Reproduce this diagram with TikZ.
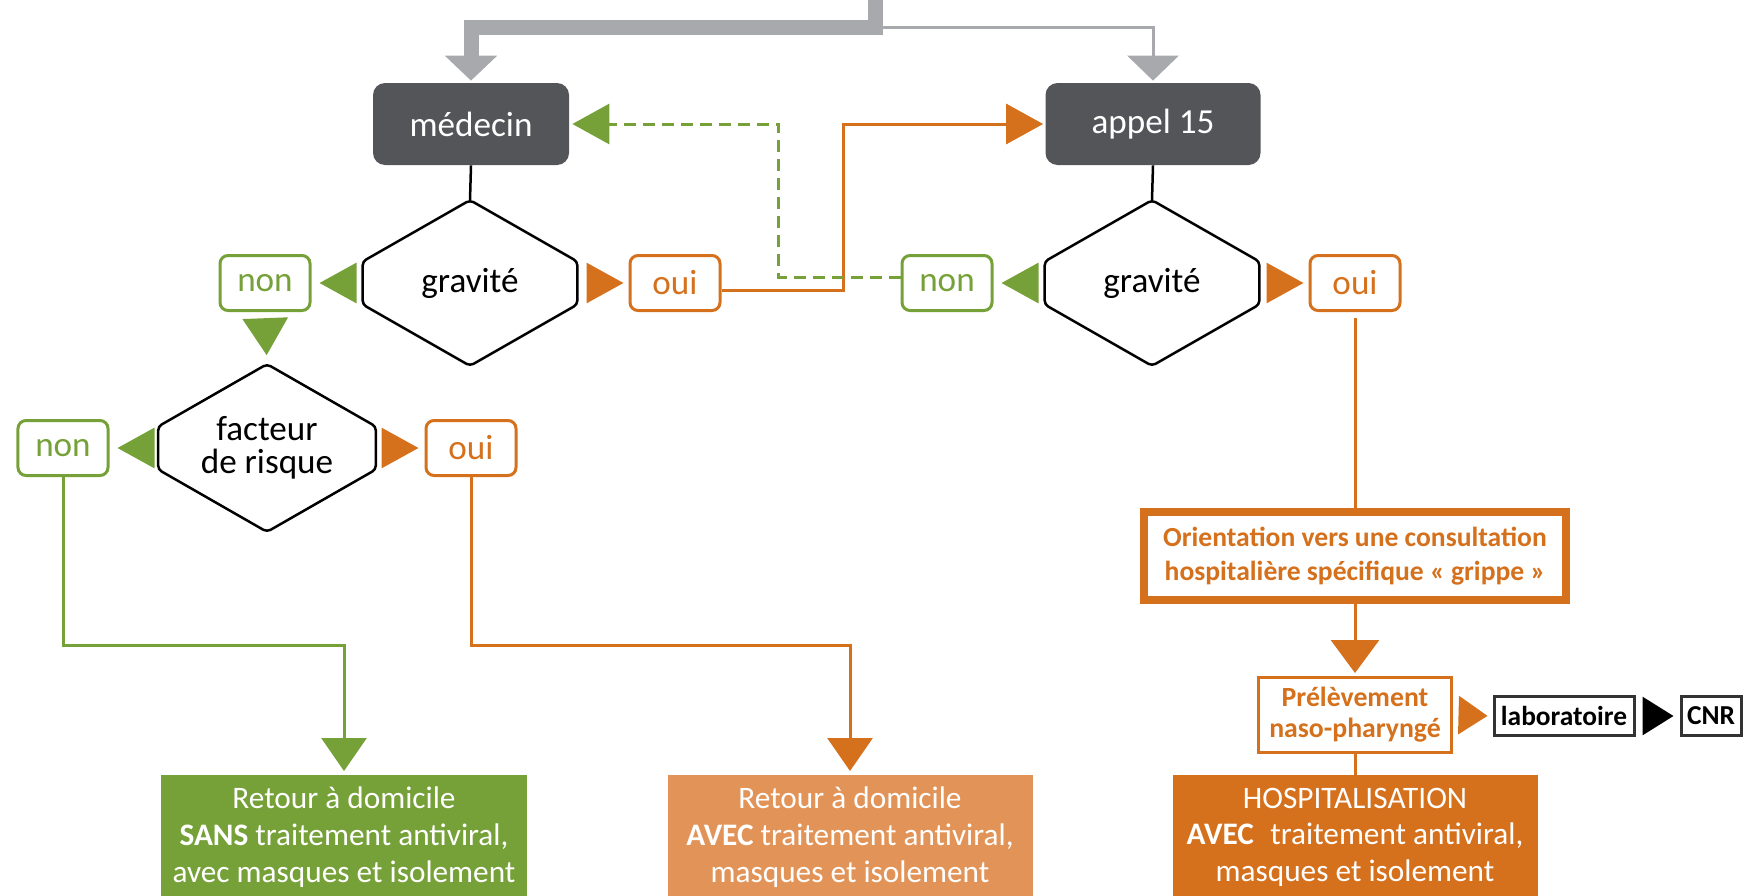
\documentclass[tikz,border=0pt]{standalone}
\usepackage{fontspec}
\setmainfont{Carlito}
\usetikzlibrary{arrows.meta}
\definecolor{vert}{RGB}{118,161,57}
\definecolor{orangefonce}{RGB}{213,112,28}
\definecolor{orangeclair}{RGB}{226,148,88}
\definecolor{grisfonce}{RGB}{84,85,88}
\definecolor{gris}{RGB}{167,169,172}

\begin{document}
\begin{tikzpicture}[x=0.2mm,y=-0.2mm,
  acteur/.style={rectangle,fill=grisfonce,text=white,rounded corners=2.4mm,minimum height=16.4mm,font=\fontsize{20}{22}\selectfont},
  gravite/.style={rectangle,minimum width=42.8mm,minimum height=33mm,align=center,inner sep=0pt,font=\fontsize{20}{19}\selectfont},
  losange/.style={draw=black,line width=0.5mm,rounded corners=0.8mm},
  boxnon/.style={rectangle,draw=vert,fill=white,text=vert,line width=0.6mm,rounded corners=1.6mm,minimum width=18mm,minimum height=11mm,font=\fontsize{20}{22}\selectfont},
  boxoui/.style={boxnon,draw=orangefonce,text=orangefonce},
  issue/.style={rectangle,text=white,anchor=north,minimum width=73mm,minimum height=24.8mm,align=center,font=\fontsize{17.8}{21}\selectfont},
  cadre/.style={rectangle,fill=white,align=center,text=orangefonce,draw=orangefonce},
  petit/.style={rectangle,draw=black!80,line width=0.6mm,inner sep=0.5mm,minimum height=7.8mm,font=\bfseries\fontsize{15.6}{17}\selectfont},
  cote/.style={-{Triangle[length=7.4mm,width=8mm]},line width=0.6mm},
  bas/.style={-{Triangle[length=6.6mm,width=9mm]},line width=0.6mm}]
\useasboundingbox (0,0) rectangle (1744,896);
\path (471,124) node(medecin)[acteur,minimum width=39.2mm]{médecin}
(1153,124) node(appel)[acteur,minimum width=43mm]{appel 15}
(470,283) node(gravL)[gravite]{gravité}
(1152,283) node(gravR)[gravite]{gravité}
(265,283) node(nonL)[boxnon]{non}
(675,283) node(ouiL)[boxoui]{oui}
(947,283) node(nonR)[boxnon]{non}
(1355,283) node(ouiR)[boxoui]{oui}
(267,448) node(facteur)[gravite,minimum width=43.4mm,minimum height=33.4mm]{facteur\\de risque}
(63,448) node(nonF)[boxnon]{non}
(471,448) node(ouiF)[boxoui]{oui}
(1355,556) node(orient)[cadre,line width=1.6mm,minimum width=84.4mm,minimum height=17.6mm,font=\bfseries\fontsize{15.7}{19.6}\selectfont]{Orientation vers une consultation\\hospitalière spécifique «~grippe~»}
(1355,715) node(prelev)[cadre,line width=0.6mm,minimum width=38.6mm,minimum height=15mm,inner sep=0.5mm,font=\bfseries\fontsize{15.8}{17.7}\selectfont]{Prélèvement\\naso-pharyngé}
(1564,716) node(labo)[petit,minimum width=28mm]{laboratoire}
(1711,716) node(cnr)[petit,minimum width=12mm]{CNR}
(344,775) node(sans)[issue,fill=vert]{Retour à domicile\\\textbf{SANS} traitement antiviral,\\avec masques et isolement}
(850,775) node(avec)[issue,fill=orangeclair]{Retour à domicile\\\textbf{AVEC} traitement antiviral,\\masques et isolement}
(1355,775) node(hospi)[issue,fill=orangefonce]{HOSPITALISATION\\\textbf{AVEC}\hspace{0.3em} traitement antiviral,\\masques et isolement};
% losanges a pans droits
\foreach \q in {gravL,gravR,facteur}
  \draw[losange](\q.north)--([yshift=4.3mm]\q.east)--([yshift=-4.3mm]\q.east)--(\q.south)
    --([yshift=-4.3mm]\q.west)--([yshift=4.3mm]\q.west)--cycle;
% entree
\coordinate (haut) at (875,-10);
\coordinate (split) at (875,27);
\draw[gris,line width=3mm,-{Triangle[length=5mm,width=10.2mm]},shorten >=0.4mm] (haut)--(split)-|(medecin.north);
\draw[gris,line width=0.6mm,-{Triangle[length=5mm,width=10.2mm]},shorten >=0.4mm] (split)-|(appel.north);
\draw[black,line width=0.5mm](medecin.south)--(gravL.north);
\draw[black,line width=0.5mm](appel.south)--(gravR.north);
% medecin
\draw[vert,cote,shorten <=1.6mm,shorten >=1.6mm](gravL.west)--(nonL.east);
\draw[orangefonce,cote,shorten <=2mm,shorten >=1mm](gravL.east)--(ouiL.west);
\draw[vert,-{Triangle[length=7.4mm,width=9mm]},line width=0.6mm,shorten <=1.6mm,shorten >=1.8mm](nonL.south)--(facteur.north);
\draw[vert,cote,shorten <=1.6mm,shorten >=1.6mm](facteur.west)--(nonF.east);
\draw[orangefonce,cote,shorten <=1.6mm,shorten >=1.2mm](facteur.east)--(ouiF.west);
\draw[vert,bas,shorten >=0.8mm](nonF.south)--++(0,168)-|(sans.north);
\draw[orangefonce,bas,shorten >=0.8mm](ouiF.south)--++(0,168)-|(avec.north);
\draw[orangefonce,cote,shorten >=0.4mm]([yshift=-1.4mm]ouiL.east)--++(122,0)|-(appel.west);
% appel 15
\draw[vert,cote,shorten <=1.6mm,shorten >=1.6mm](gravR.west)--(nonR.east);
\draw[orangefonce,cote,shorten <=2mm,shorten >=1mm](gravR.east)--(ouiR.west);
\draw[vert,cote,dash pattern=on 2.4mm off 1.4mm,shorten >=0.6mm]([yshift=1.2mm]nonR.west)--++(-122,0)|-(medecin.east);
\draw[orangefonce,line width=0.6mm,shorten <=1.2mm](ouiR.south)--(orient.north);
\draw[orangefonce,-{Triangle[length=6.6mm,width=9.6mm]},line width=0.6mm,shorten >=0.6mm](orient.south)--(prelev.north);
\draw[orangefonce,line width=0.6mm](prelev.south)--(hospi.north);
\draw[orangefonce,-{Triangle[length=5.8mm,width=7.6mm]},line width=0.6mm,shorten <=1.2mm,shorten >=1mm](prelev.east)--(labo.west);
\draw[black,-{Triangle[length=6.2mm,width=7.6mm]},line width=0.6mm,shorten <=1.6mm,shorten >=1.2mm](labo.east)--(cnr.west);
\end{tikzpicture}
\end{document}
